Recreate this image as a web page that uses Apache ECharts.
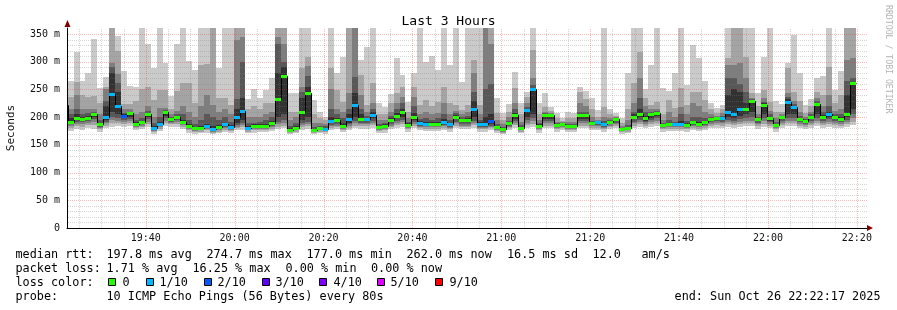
<!DOCTYPE html>
<html><head><meta charset="utf-8">
<script src="https://cdn.jsdelivr.net/npm/echarts@6/dist/echarts.min.js"></script>
<style>html,body{margin:0;padding:0;background:#fff}#c{width:897px;height:310px}</style>
</head><body><div id="c"></div>
<script>
// time in minutes after 19:00
const startMin = 22 + 17 / 60;      // 19:22:17
const endMin = startMin + 180;      // 22:22:17
const firstColStart = 21.107;       // first (partial) 80 s step
const colWidth = 80 / 60;

const pMax = [265,266,318,266,280,341,253,273,380,346,
283,256,255,380,332,289,380,298,238,332,
380,302,285,380,380,380,288,380,380,380,
380,232,250,235,249,270,380,380,243,243,
380,380,231,209,201,380,279,309,380,380,
303,327,380,225,218,241,306,276,228,280,
380,299,310,285,380,294,380,264,380,380,
380,380,380,235,207,224,282,226,246,380,
225,243,219,207,198,209,207,255,247,235,
213,380,215,207,198,279,380,380,250,294,
380,252,247,279,380,258,330,306,265,225,
216,222,380,380,380,380,380,243,309,380,
229,223,297,349,279,222,233,270,275,380,
249,283,380,380];
const p9 = [237,237,263,240,237,238,225,255,361,319,
224,224,230,250,255,231,249,249,215,248,
262,261,225,295,296,361,235,234,222,361,
361,215,220,215,225,225,361,361,210,209,
289,309,205,198,195,289,249,228,361,380,
276,222,261,205,205,225,243,255,210,255,
222,231,220,228,255,225,222,213,222,303,
222,380,361,207,195,210,252,205,237,321,
205,219,212,198,194,198,198,245,233,215,
200,219,205,203,190,214,261,318,235,222,
228,205,231,216,252,222,246,246,231,215,
208,215,306,361,361,309,243,220,249,228,
210,210,288,246,230,208,220,246,240,291,
225,240,361,361];
const p8 = [228,215,240,215,215,215,205,250,297,278,
215,214,205,210,220,200,216,216,205,212,
220,210,200,220,240,222,210,215,205,340,
345,200,200,200,205,210,345,333,195,200,
255,292,190,190,188,250,215,210,243,361,
240,210,225,195,195,210,225,237,198,237,
205,210,205,208,225,205,212,205,210,279,
205,361,332,195,188,200,225,192,225,270,
195,210,208,192,191,192,192,225,220,200,
195,200,198,200,184,195,225,270,220,215,
215,195,210,200,219,205,225,220,210,205,
203,208,294,294,297,270,235,205,235,212,
198,206,243,230,210,200,210,235,220,240,
212,215,303,306];
const p7 = [224,205,215,205,208,210,195,230,290,262,
208,210,195,198,212,190,200,213,200,206,
205,195,188,195,205,200,195,200,192,233,
300,190,190,192,195,200,333,300,185,190,
245,275,182,185,184,215,205,198,215,273,
215,203,215,188,190,202,215,225,192,220,
197,198,195,198,205,195,207,200,202,246,
195,250,260,188,183,194,215,186,218,258,
190,207,206,189,190,188,188,210,210,194,
193,193,195,198,181,186,210,235,210,210,
211,190,195,192,205,193,200,200,198,200,
201,203,270,270,260,245,232,200,228,205,
192,203,237,224,203,196,205,230,210,220,
206,205,265,270];
const p6 = [223,198,205,200,203,207,190,220,280,245,
205,209,191,194,208,184,192,211,198,203,
195,188,183,185,188,185,186,190,186,215,
235,185,187,188,188,194,280,290,180,184,
235,255,179,183,181,200,198,190,205,243,
205,199,210,185,187,198,208,215,189,208,
193,192,191,192,196,190,204,197,198,230,
191,200,205,185,181,191,208,183,215,252,
187,205,205,187,189,186,186,206,206,192,
192,190,193,197,179,183,205,215,202,207,
209,188,190,190,194,189,194,192,194,198,
200,200,240,250,245,225,230,198,225,200,
188,201,232,220,199,194,203,226,204,210,
203,200,240,264];
const median = [222,192,198,196,199,205,187,200,242,221,
203,208,188,191,205,181,188,209,196,201,
192,184,180,181,184,179,182,187,182,201,
211,181,184,185,185,190,233,275,177,181,
209,244,177,181,179,193,195,185,196,222,
197,196,204,182,184,195,203,210,186,200,
190,188,188,188,192,187,201,195,195,214,
188,188,193,183,179,189,204,181,213,250,
184,204,204,186,188,185,185,204,204,190,
191,188,192,196,178,181,201,206,198,205,
208,186,188,188,188,186,191,188,191,197,
199,199,210,206,215,215,229,196,222,198,
186,200,228,218,197,193,201,224,201,205,
201,197,206,262];
const p5 = [212,190,195,194,197,200,185,195,210,205,
198,200,186,189,200,179,186,202,194,198,
190,182,178,179,182,177,180,184,180,190,
195,179,182,183,183,187,200,205,176,179,
195,200,176,179,178,189,191,183,190,200,
193,193,198,180,182,191,198,200,184,195,
187,186,186,186,189,185,196,191,191,200,
185,185,188,181,177,187,197,179,200,205,
182,197,197,184,186,183,183,197,197,188,
188,185,189,193,177,179,196,200,194,199,
202,184,186,186,186,184,188,186,188,194,
196,195,200,198,203,205,210,193,205,194,
184,196,205,205,194,190,197,205,197,200,
197,194,200,215];
const p4 = [203,187,192,191,194,196,183,192,200,198,
195,196,184,187,196,177,184,198,192,195,
188,180,176,177,180,176,178,182,178,186,
190,177,180,181,181,184,192,195,175,177,
190,192,175,177,177,186,188,181,187,193,
190,190,194,178,180,188,194,195,182,191,
185,184,184,184,186,183,192,188,188,194,
183,183,185,179,176,185,193,177,195,198,
180,193,193,182,184,181,181,193,193,186,
186,183,187,190,176,177,192,195,191,195,
198,182,184,184,184,182,186,184,186,191,
193,192,195,194,197,199,200,190,198,191,
182,193,198,198,191,188,193,198,193,196,
193,191,195,205];
const p3 = [196,184,188,187,190,192,181,189,195,194,
192,193,182,185,192,175,182,194,190,192,
186,178,175,176,178,174,176,180,177,183,
186,176,178,179,179,182,187,190,174,176,
186,188,174,176,175,184,185,179,184,189,
187,187,190,177,178,185,190,191,180,188,
183,182,182,182,184,181,189,185,185,190,
181,181,183,177,174,183,190,176,190,193,
178,189,189,180,182,179,179,189,189,184,
184,181,185,187,175,176,189,191,188,191,
194,180,182,182,182,180,184,182,184,188,
190,189,191,190,192,194,194,187,193,188,
180,190,193,193,188,186,190,193,190,192,
190,188,191,198];
const p2 = [189,180,184,183,186,186,178,185,190,190,
188,190,180,182,188,173,179,190,187,188,
183,176,173,174,176,172,174,177,175,180,
182,174,176,177,177,179,183,185,172,174,
182,184,172,174,173,181,182,177,181,185,
184,184,186,175,176,182,186,187,178,185,
180,179,179,179,181,178,185,182,182,186,
178,178,180,175,172,180,186,174,186,188,
176,185,185,178,180,177,177,185,185,181,
181,178,182,184,173,174,185,187,185,187,
190,178,179,179,179,178,181,179,181,185,
186,185,187,186,188,189,189,184,188,185,
178,186,189,189,185,183,186,189,186,188,
186,185,187,192];
const pMin = [181,175,178,177,180,179,174,180,183,184,
183,184,176,178,183,170,175,185,182,183,
178,172,170,171,172,169,171,173,172,176,
177,171,172,173,173,175,178,180,169,171,
177,179,169,171,170,177,178,173,177,180,
179,179,181,172,172,178,181,182,174,180,
176,175,175,175,177,174,180,178,178,181,
174,174,176,171,169,176,181,171,181,182,
172,180,180,174,176,173,173,180,180,177,
177,174,178,180,170,171,180,182,180,182,
184,174,175,175,175,174,177,175,177,180,
181,180,182,181,183,184,184,179,183,180,
174,181,184,184,180,179,181,184,181,183,
181,180,182,186];
const lossCount = [0,0,0,0,0,0,0,1,1,1,
2,0,0,0,0,1,1,0,0,0,
0,0,0,0,1,1,0,1,1,1,
1,1,0,0,0,0,0,0,0,0,
0,0,0,0,1,1,0,0,1,1,
0,1,1,0,0,0,0,0,0,0,
1,1,0,0,1,1,0,0,0,1,
1,1,2,0,0,0,0,0,1,1,
0,0,0,0,0,0,0,0,0,0,
1,1,0,0,0,0,0,0,0,0,
0,0,0,1,1,0,0,0,0,0,
0,1,1,1,1,0,0,0,0,0,
0,0,1,1,0,0,0,0,0,1,
0,0,0,0];

const xLabelValues = [40,60,80,100,120,140,160,180,200];
const xMinorGrid = [25,30,35,45,50,55,65,70,75,85,90,95,105,110,115,125,130,135,145,150,155,165,170,175,185,190,195];
const yMajorGrid = [50,100,150,200,250,300,350];
const yMinorGrid = [10,20,30,40,60,70,80,90,110,120,130,140,160,170,180,190,210,220,230,240,260,270,280,290,310,320,330,340];

const statsLine1 = [['median rtt:',15.5],['197.8 ms avg',106.5],['274.7 ms max',206.5],['177.0 ms min',306.5],['262.0 ms now',406.5],['16.5 ms sd',507],['12.0',592.5],['am/s',641.5]];
const statsLine2 = [['packet loss:',15.5],['1.71 % avg',106.5],['16.25 % max',192.5],['0.00 % min',285.5],['0.00 % now',371]];
const lossLegend = [['0','#26ff00',108,122.5],['1/10','#00b8ff',146,159.5],['2/10','#0059ff',204,217.5],['3/10','#5e00ff',262,275.5],['4/10','#7e00ff',319,333.5],['5/10','#dd00ff',377,390.5],['9/10','#ff0000',435,449.5]];
const probeText = '10 ICMP Echo Pings (56 Bytes) every 80s';
const endText = 'end: Sun Oct 26 22:22:17 2025';

const lossColors = ['#26ff00','#00b8ff','#0059ff','#5e00ff','#7e00ff','#dd00ff','#ff0000'];
const smokeColors = ['#cacaca','#a4a4a4','#7e7e7e','#585858','#323232'];
const MONO = '"DejaVu Sans Mono", monospace';
const FS = 11.8;

const rows = pMax.map((_, i) => {
  const t = firstColStart + i * colWidth;
  return [t, t + colWidth, pMin[i], p2[i], p3[i], p4[i], p5[i], p6[i], p7[i], p8[i], p9[i], pMax[i],
          median[i], lossCount[i], i > 0 ? median[i - 1] : median[i]];
});

const gridRows = [];
yMinorGrid.forEach(v => gridRows.push([0, v]));
xMinorGrid.forEach(v => gridRows.push([2, v]));
yMajorGrid.forEach(v => gridRows.push([1, v]));
xLabelValues.forEach(v => gridRows.push([3, v]));

const chart = echarts.init(document.getElementById('c'), null, {renderer: 'canvas'});

const graphics = [];
const txt = (s, x, y, extra) => graphics.push({type:'text', x, y, style:Object.assign({text:s, fontFamily:MONO, fontSize:FS, fill:'#000', verticalAlign:'middle'}, extra || {})});
statsLine1.forEach(s => txt(s[0], s[1], 255));
statsLine2.forEach(s => txt(s[0], s[1], 268.5));
txt('loss color:', 15.5, 282.5);
lossLegend.forEach(l => {
  graphics.push({type:'rect', shape:{x:l[2] + 0.5, y:278.5, width:7, height:7}, style:{fill:l[1], stroke:'#000', lineWidth:1}});
  txt(l[0], l[3], 282.5);
});
txt('probe:', 15.5, 296.5);
txt(probeText, 106.5, 296.5);
txt(endText, 880.5, 296.5, {align:'right'});
graphics.push({type:'text', x:888, y:5, rotation:-Math.PI/2, style:{text:'RRDTOOL / TOBI OETIKER', fontFamily:MONO, fontSize:8.2, fill:'#b4b4b4', verticalAlign:'middle', align:'left'}});
// axis arrows
graphics.push({type:'polygon', z:10, shape:{points:[[867,225],[873,228],[867,231]]}, style:{fill:'#800000'}});
graphics.push({type:'polygon', z:10, shape:{points:[[64.5,27],[67.5,20],[70.5,27]]}, style:{fill:'#800000'}});

chart.setOption({
  animation: false,
  backgroundColor: '#fff',
  title: {text:'Last 3 Hours', left:'center', top:10, textStyle:{fontFamily:MONO, fontSize:13, fontWeight:'normal', color:'#000'}},
  grid: {left:67, top:28, width:800, height:200, containLabel:false, outerBoundsMode:'none'},
  xAxis: {
    type:'value', min:startMin, max:endMin, z:5,
    axisLine:{show:true, lineStyle:{color:'#000', width:1}},
    axisTick:{show:false}, splitLine:{show:false},
    axisLabel:{customValues:xLabelValues, margin:5, fontFamily:MONO, fontSize:10, color:'#111',
      formatter: v => { const h = 19 + Math.floor(v / 60); const m = Math.round(v % 60); return h + ':' + (m < 10 ? '0' + m : m); }}
  },
  yAxis: {
    type:'value', min:0, max:361, interval:50, z:5,
    name:'Seconds', nameLocation:'middle', nameGap:50, nameRotate:90,
    nameTextStyle:{fontFamily:MONO, fontSize:11, color:'#111'},
    axisLine:{show:true, lineStyle:{color:'#000', width:1}},
    axisTick:{show:false}, splitLine:{show:false},
    axisLabel:{showMaxLabel:false, margin:7, fontFamily:MONO, fontSize:10, color:'#111',
      formatter: v => v === 0 ? '0' : v + ' m'}
  },
  graphic: graphics,
  series: [
    {
      type:'custom', name:'smoke', z:1, clip:true, data:rows,
      renderItem: (params, api) => {
        const x0 = Math.round(api.coord([api.value(0), 0])[0]);
        const x1 = Math.round(api.coord([api.value(1), 0])[0]);
        const children = [];
        const bands = [[2,11],[3,10],[4,9],[5,8],[6,7]];
        bands.forEach((b, i) => {
          const yTop = Math.round(api.coord([api.value(0), api.value(b[1])])[1]);
          const yBot = Math.round(api.coord([api.value(0), api.value(b[0])])[1]);
          children.push({type:'rect', shape:{x:x0, y:yTop, width:x1 - x0, height:Math.max(0, yBot - yTop)}, style:{fill:smokeColors[i]}});
        });
        return {type:'group', children};
      }
    },
    {
      type:'custom', name:'grid', z:2, clip:false, data:gridRows, silent:true,
      renderItem: (params, api) => {
        const kind = api.value(0), v = api.value(1);
        let shape;
        if (kind < 2) {
          const a = api.coord([startMin, v]), b = api.coord([endMin, v]);
          const y = Math.round(a[1]) + 0.5;
          shape = {x1:a[0] + 1, y1:y, x2:b[0], y2:y};
        } else {
          const a = api.coord([v, 0]), b = api.coord([v, 361]);
          const x = Math.round(a[0]) + 0.5;
          shape = {x1:x, y1:a[1], x2:x, y2:b[1]};
        }
        const major = kind % 2 === 1;
        return {type:'line', shape, style:{stroke: major ? 'rgba(255,40,40,0.32)' : 'rgba(128,128,128,0.32)', lineWidth:1, lineDash:[1,1]}};
      }
    },
    {
      type:'custom', name:'median', z:3, clip:true, data:rows,
      renderItem: (params, api) => {
        const x0 = Math.round(api.coord([api.value(0), 0])[0]);
        const x1 = Math.round(api.coord([api.value(1), 0])[0]);
        const ym = Math.round(api.coord([api.value(0), api.value(12)])[1]);
        const yp = Math.round(api.coord([api.value(0), api.value(14)])[1]);
        return {type:'group', children:[
          {type:'polyline', shape:{points:[[x0 + 0.5, yp + 0.5],[x0 + 0.5, ym + 0.5],[x1 + 0.5, ym + 0.5]]}, style:{stroke:'#000', lineWidth:1, fill:null}},
          {type:'rect', shape:{x:x0, y:ym - 1, width:x1 - x0, height:3}, style:{fill:lossColors[api.value(13)]}}
        ]};
      }
    }
  ]
});
</script>
</body></html>
